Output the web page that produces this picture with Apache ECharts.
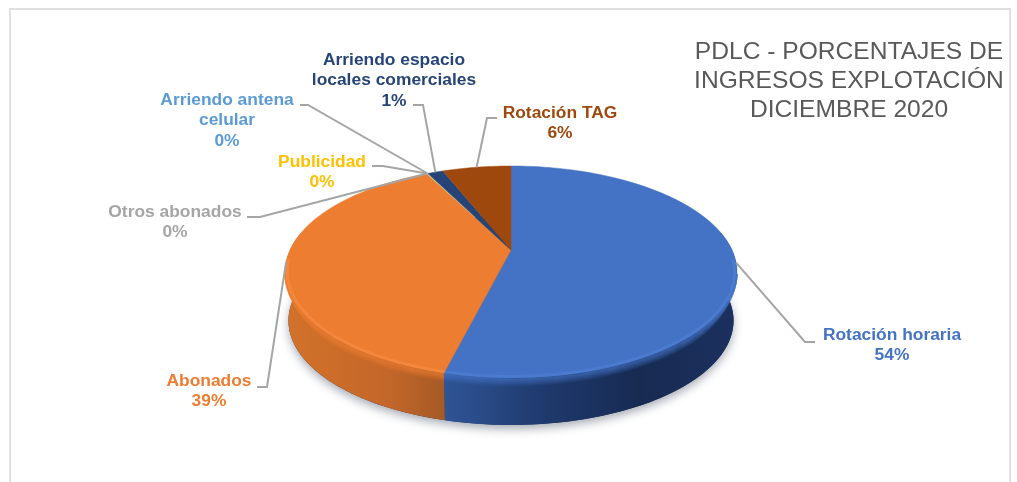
<!DOCTYPE html>
<html>
<head>
<meta charset="utf-8">
<style>
  html, body { margin: 0; padding: 0; background: #fff; }
  #chart { width: 1017px; height: 482px; }
</style>
<script src="https://cdn.jsdelivr.net/npm/echarts@6/dist/echarts.min.js"></script>
</head>
<body>
<div id="chart"></div>
<script>
// datos (el orden es el de la torta, en sentido horario)
var categories = ["Rotación horaria", "Abonados", "Otros abonados", "Publicidad", "Arriendo antena celular", "Arriendo espacio locales comerciales", "Rotación TAG"];
var values = [53.9, 38.6, 0.05, 0.05, 0.05, 1.35, 6];
var titleLines = ["PDLC - PORCENTAJES DE", "INGRESOS EXPLOTACIÓN", "DICIEMBRE 2020"];

var colors = ["#4472C4", "#ED7D31", "#A5A5A5", "#FFC000", "#5B9BD5", "#264478", "#9E480E"];
var rimColors = ["#4C7DD2", "#F5893F"];
var wallColors = [
  ["#2F5597", "#1F3A6E", "#172B52", "#1B305E"],
  ["#D2722B", "#CB6C28", "#C2662A", "#A65A25"]
];

// cortes de linea, centro del texto y codo de cada guia
var labelLines = [
  ["Rotación horaria"], ["Abonados"], ["Otros abonados"], ["Publicidad"],
  ["Arriendo antena", "celular"], ["Arriendo espacio", "locales comerciales"], ["Rotación TAG"]
];
var labelAt = [[892, 335], [209, 381], [175, 212], [322, 162], [227, 100], [394, 60], [560, 113]];
var leaderAt = [
  [[815, 342], [805, 342]],
  [[257, 387], [267, 387]],
  [[247, 217], [260, 217]],
  [[372, 166], [383, 166]],
  [[300, 105], [308, 105]],
  [[413, 105], [423, 105]],
  [[497, 118], [487, 118]]
];

var total = values.reduce(function (s, v) { return s + v; }, 0);

// la torta esta en perspectiva: el centro queda arriba del centro de la elipse
var cx = 511, cy = 250, rx = 221, ry = 101.4, persp = 0.2075;
var depth = 48.6, shrink = 0.985, ellipseY = 272;
var frontFrom = 103, frontTo = 257;

function topPoint(deg) {
  var r = deg * Math.PI / 180;
  var u = Math.sin(r), v = -Math.cos(r), w = 1 - persp * v;
  return [cx + rx * u / w, cy + ry * v / w];
}
function bottomPoint(deg) {
  var p = topPoint(deg);
  return [cx + (p[0] - cx) * shrink, ellipseY + depth + (p[1] - ellipseY) * shrink];
}
// borde desplazado hacia abajo, se junta con el canto en los lados
function bevelPoint(dy) {
  return function (deg) {
    var p = topPoint(deg);
    var fade = Math.max(0, Math.min(1, (deg - frontFrom) / 30, (frontTo - deg) / 30));
    return [p[0], p[1] + dy * fade];
  };
}
// borde claro, un poco hacia adentro para no salirse de la elipse
function insetPoint(deg) {
  var p = topPoint(deg);
  return [cx + (p[0] - cx) * 0.99, ellipseY + (p[1] - ellipseY) * 0.985];
}
function arc(from, to, fn) {
  var pts = [];
  var n = Math.max(2, Math.ceil(Math.abs(to - from) / 1.5));
  for (var i = 0; i <= n; i++) {
    pts.push(fn(from + (to - from) * i / n));
  }
  return pts;
}
function angleOf(sum) {
  return echarts.number.linearMap(sum, [0, total], [0, 360]);
}
function startOf(idx) {
  var s = 0;
  for (var i = 0; i < idx; i++) s += values[i];
  return s;
}
function gradient(stops) {
  return new echarts.graphic.LinearGradient(0, 0, 1, 0, stops.map(function (c, i) {
    return { offset: i / (stops.length - 1), color: c };
  }));
}

// paredes de la torta, solo se ve el frente
function renderWall(params, api) {
  var idx = params.dataIndex;
  var start = startOf(idx), val = api.value(0);
  var from = Math.max(angleOf(start), 80), to = Math.min(angleOf(start + val), 280);
  if (to <= from || !wallColors[idx]) return null;
  var poly = arc(from, to, topPoint).concat(arc(to, from, bottomPoint));
  var children = [{ type: "polygon", shape: { points: poly }, style: { fill: gradient(wallColors[idx]) } }];
  // paso suave del color de arriba al de la pared
  var bevelFrom = Math.max(from, frontFrom), bevelTo = Math.min(to, frontTo);
  for (var i = 1; i <= 8; i++) {
    children.push({
      type: "polyline",
      shape: { points: arc(bevelFrom, bevelTo, bevelPoint(i)) },
      style: { stroke: colors[idx], lineWidth: 1.6, fill: null, opacity: 0.62 - i * 0.07 }
    });
  }
  return { type: "group", children: children };
}

// sombra bajo la torta
function renderShadow() {
  return {
    type: "polygon",
    shape: { points: arc(0, 360, bottomPoint) },
    style: { fill: "#26365a", shadowColor: "rgba(60,70,90,0.45)", shadowBlur: 10, shadowOffsetY: 4 }
  };
}

function renderTop(params, api) {
  var idx = params.dataIndex;
  var start = startOf(idx), val = api.value(0);
  var pts = arc(angleOf(start), angleOf(start + val), topPoint);
  pts.unshift([cx, cy]);
  var children = [{
    type: "polygon",
    shape: { points: pts },
    style: { fill: colors[idx], stroke: colors[idx], lineWidth: val < 1 ? 0 : 0.5 }
  }];
  // borde claro del frente
  if (rimColors[idx]) {
    var from = Math.max(angleOf(start), 95), to = Math.min(angleOf(start + val), 265);
    children.push({
      type: "polyline",
      shape: { points: arc(from, to, insetPoint) },
      style: { stroke: rimColors[idx], lineWidth: 3, fill: null, opacity: 0.8 }
    });
  }
  return { type: "group", children: children };
}

function renderLabel(params, api) {
  var idx = params.dataIndex;
  var start = startOf(idx), val = api.value(0);
  var mid = topPoint(angleOf(start + val / 2));
  var pos = labelAt[idx];
  var lines = labelLines[idx].concat([Math.round(val / total * 100) + "%"]);
  var children = [{
    type: "polyline",
    shape: { points: leaderAt[idx].concat([mid]) },
    style: { stroke: "#A5A5A5", lineWidth: 2, fill: null }
  }];
  lines.forEach(function (t, i) {
    children.push({
      type: "text",
      style: {
        text: t,
        x: pos[0],
        y: pos[1] + i * 20.5,
        fill: colors[idx],
        font: "bold 17.4px 'Liberation Sans', Arial, sans-serif",
        align: "center",
        verticalAlign: "middle"
      }
    });
  });
  return { type: "group", children: children };
}

var seriesData = values.map(function (v, i) {
  return { name: categories[i], value: [v] };
});

var chart = echarts.init(document.getElementById("chart"));
chart.setOption({
  backgroundColor: "#fff",
  animation: false,
  graphic: [
    {
      type: "rect",
      shape: { x: 10, y: 9, width: 1000, height: 520 },
      style: { fill: "#fff", stroke: "#E0E0E0", lineWidth: 2 },
      z: -1
    }
  ].concat(titleLines.map(function (t, i) {
    return {
      type: "text",
      style: {
        text: t,
        x: 849,
        y: 52 + i * 29,
        fill: "#595959",
        font: "24.6px 'Liberation Sans', Arial, sans-serif",
        align: "center",
        verticalAlign: "middle"
      }
    };
  })),
  series: [
    { type: "custom", coordinateSystem: "none", name: "base", data: [[100]], renderItem: renderShadow, silent: true, z: 1 },
    { type: "custom", coordinateSystem: "none", name: "paredes", data: seriesData, renderItem: renderWall, z: 2 },
    { type: "custom", coordinateSystem: "none", name: "torta", data: seriesData, renderItem: renderTop, z: 3 },
    { type: "custom", coordinateSystem: "none", name: "etiquetas", data: seriesData, renderItem: renderLabel, z: 4 }
  ]
});
</script>
</body>
</html>
